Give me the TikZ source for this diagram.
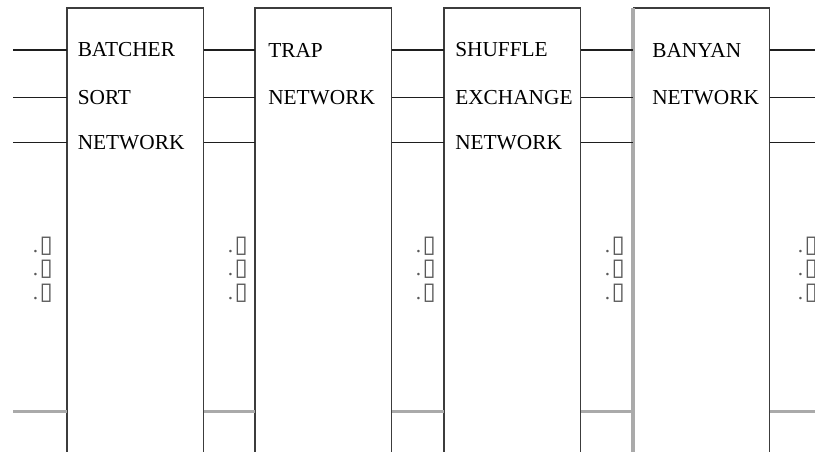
\documentclass[tikz,border=0pt]{standalone}
\usepackage{fontspec}
\setmainfont{Liberation Serif}
\newfontfamily\glyphfont{DejaVu Sans}
\usetikzlibrary{positioning}
\definecolor{framedark}{RGB}{60,60,60}
\definecolor{wireblack}{RGB}{30,30,30}
\definecolor{wiregray}{RGB}{170,170,170}
\tikzset{
  stage/.style={rectangle,draw=none,inner sep=0pt,
    minimum width=102pt,minimum height=345pt},
  frame/.style={draw=framedark,line width=1.4pt},
  wire/.style={draw=wireblack,line width=1pt},
  greywire/.style={draw=wiregray,line width=2.2pt},
  stagename/.style={font=\fontsize{16}{18}\selectfont,anchor=west,inner sep=0pt},
  ellip/.style={font=\glyphfont\fontsize{18}{20}\selectfont,text=black!65,
    anchor=east,inner sep=0pt}
}
\begin{document}
\begin{tikzpicture}[x=0.75pt,y=-0.75pt]
  \useasboundingbox (0,0) rectangle (815,451);
  \clip (0,0) rectangle (815,451);

  % four switching stages, open at the bottom
  \node[stage,anchor=north west] (s1) at (67,8) {};
  \node[stage,anchor=north west] (s2) at (255,8) {};
  \node[stage,anchor=north west] (s3) at (444,8) {};
  \node[stage,anchor=north west] (s4) at (633,8) {};

  \coordinate (r1) at (0,50);
  \coordinate (r2) at (0,97.5);
  \coordinate (r3) at (0,142.5);
  \coordinate (r4) at (0,411.5);
  \coordinate (inl) at (13,0);
  \coordinate (outr) at (815,0);

  \foreach \s in {s1,s2,s3}{
    \draw[frame] (\s.south west) -- (\s.north west) -- (\s.north east) -- (\s.south east);
  }
  \draw[frame] (s4.north west) -- (s4.north east) -- (s4.south east);
  \draw[draw=wiregray,line width=2.4pt] (s4.south west) -- (s4.north west);

  % wires between stages
  \foreach \r in {r1,r2,r3}{
    \draw[wire] (inl |- \r) -- (s1.west |- \r);
    \draw[wire] (s1.east |- \r) -- (s2.west |- \r);
    \draw[wire] (s2.east |- \r) -- (s3.west |- \r);
    \draw[wire] (s3.east |- \r) -- (s4.west |- \r);
    \draw[wire] (s4.east |- \r) -- (outr |- \r);
  }
  \draw[greywire] (inl |- r4) -- (s1.west |- r4);
  \draw[greywire] (s1.east |- r4) -- (s2.west |- r4);
  \draw[greywire] (s2.east |- r4) -- (s3.west |- r4);
  \draw[greywire] (s3.east |- r4) -- (s4.west |- r4);
  \draw[greywire] (s4.east |- r4) -- (outr |- r4);

  \node[stagename] (n11) at (77.5,50) {BATCHER};
  \node[stagename] (n12) at (77.5,97.5) {SORT};
  \node[stagename] (n13) at (77.5,142.5) {NETWORK};
  \node[stagename] (n21) at (268,50) {TRAP};
  \node[stagename] (n22) at (268,97.5) {NETWORK};
  \node[stagename] (n31) at (455,50) {SHUFFLE};
  \node[stagename] (n32) at (455,97.5) {EXCHANGE};
  \node[stagename] (n33) at (455,142.5) {NETWORK};
  \node[stagename] (n41) at (652,50) {BANYAN};
  \node[stagename] (n42) at (652,97.5) {NETWORK};

  % elided wires
  \foreach \x [count=\i] in {53,248,436,625,818}{
    \foreach \y [count=\j] in {246,269.5,293}{
      \node[ellip] (d\i\j) at (\x,\y) {{\rmfamily\fontsize{16}{18}\selectfont.}\kern1pt▯};
    }
  }
\end{tikzpicture}
\end{document}
